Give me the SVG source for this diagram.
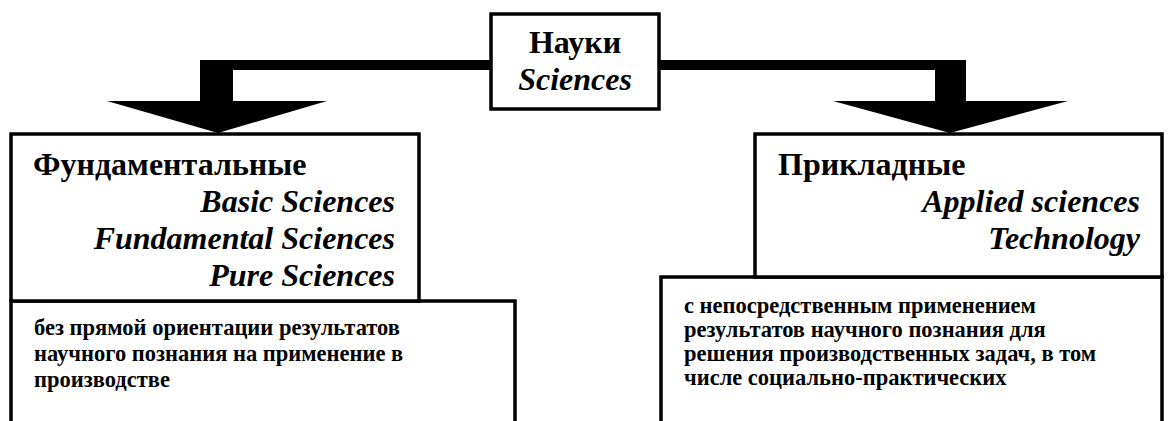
<svg xmlns="http://www.w3.org/2000/svg" width="1168" height="421" viewBox="0 0 1168 421">
<style>
.box{fill:#fff;stroke:#000;stroke-width:3.5}
.t{font-family:"Liberation Serif","Times New Roman",serif;font-weight:bold;fill:#000}
.big{font-size:32px}
.it{font-style:italic}
.sm{font-size:22.5px}
.end{text-anchor:end}
.mid{text-anchor:middle}
.conn{fill:#000;stroke:none}
</style>
<g id="connectors">
<rect class="conn" x="200" y="60" width="766" height="10"/>
<rect class="conn" x="200" y="60" width="33" height="43"/>
<polygon class="conn" points="107,101 327,101 218,133"/>
<rect class="conn" x="935" y="60" width="31" height="43"/>
<polygon class="conn" points="833,101 1068,101 950,133"/>
</g>
<g id="node-sciences">
<rect class="box" x="491" y="14" width="168" height="95"/>
<text class="t big mid" x="575" y="53">Науки</text>
<text class="t big mid it" x="575" y="90">Sciences</text>
</g>
<g id="node-basic-desc">
<rect class="box" x="11" y="301" width="504" height="140"/>
<text class="t sm" x="34" y="335">без прямой ориентации результатов</text>
<text class="t sm" x="34" y="361">научного познания на применение в</text>
<text class="t sm" x="34" y="387">производстве</text>
</g>
<g id="node-basic">
<rect class="box" x="11" y="134" width="408" height="167"/>
<text class="t big" x="33" y="175">Фундаментальные</text>
<text class="t big it end" x="395" y="212">Basic Sciences</text>
<text class="t big it end" x="395" y="249">Fundamental Sciences</text>
<text class="t big it end" x="395" y="286">Pure Sciences</text>
</g>
<g id="node-applied-desc">
<rect class="box" x="661" y="277" width="501" height="164"/>
<text class="t sm" x="684" y="313">с непосредственным применением</text>
<text class="t sm" x="684" y="337">результатов научного познания для</text>
<text class="t sm" x="684" y="361">решения производственных задач, в том</text>
<text class="t sm" x="684" y="385">числе социально-практических</text>
</g>
<g id="node-applied">
<rect class="box" x="755" y="134" width="407" height="143"/>
<text class="t big" x="778" y="175">Прикладные</text>
<text class="t big it end" x="1140" y="212">Applied sciences</text>
<text class="t big it end" x="1140" y="249">Technology</text>
</g>
</svg>
